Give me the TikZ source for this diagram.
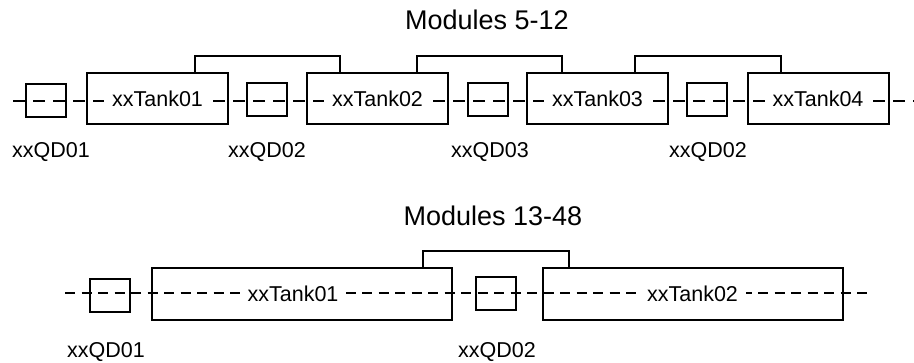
\documentclass[tikz,border=0pt]{standalone}
\usepackage{fontspec}
\setmainfont{Liberation Sans}
\begin{document}
\begin{tikzpicture}[x=1pt,y=-1pt,
  box/.style={draw, line width=2pt, inner sep=0pt},
  tankbox/.style={box, minimum width=141pt, minimum height=51pt},
  longtank/.style={box, minimum width=300pt, minimum height=52pt},
  qdbox/.style={box, minimum width=40pt, minimum height=33pt},
  flow/.style={line width=2pt},
  bracket/.style={line width=2pt},
  intext/.style={fill=white, inner xsep=8pt, inner ysep=2pt, anchor=base, font=\fontsize{21.5}{24}\selectfont},
  lbl/.style={anchor=base, inner sep=0pt, font=\fontsize{21.5}{24}\selectfont},
  ttl/.style={anchor=base, inner sep=0pt, font=\fontsize{27}{30}\selectfont}]
\useasboundingbox (0,0) rectangle (914,362);

% ---------- Modules 5-12 ----------
\node[ttl] (title1) at (487,29) {Modules 5-12};

\node[qdbox]   (qa1) at (46,100) {};
\node[tankbox] (ta1) at (157.5,98.5) {};
\node[qdbox]   (qa2) at (266.5,99.5) {};
\node[tankbox] (ta2) at (377.5,98.5) {};
\node[qdbox]   (qa3) at (487.5,99) {};
\node[tankbox] (ta3) at (597.5,98.5) {};
\node[qdbox]   (qa4) at (707,99) {};
\node[tankbox] (ta4) at (818,98.5) {};

\draw[bracket] (195,0 |- ta1.north) |- (340,56) -- (340,0 |- ta2.north);
\draw[bracket] (417,0 |- ta2.north) |- (562,56) -- (562,0 |- ta3.north);
\draw[bracket] (635,0 |- ta3.north) |- (781,56) -- (781,0 |- ta4.north);

\coordinate (sa) at (13,101);
\coordinate (ea) at (914,101);
\draw[flow, dash pattern=on 12pt off 8pt] (sa) -- (ea);

\node[intext] (ta1t) at (157.5,106) {xxTank01};
\node[intext] (ta2t) at (377.5,106) {xxTank02};
\node[intext] (ta3t) at (597.5,106) {xxTank03};
\node[intext] (ta4t) at (818,106) {xxTank04};

\node[lbl] (la1) at (51,157) {xxQD01};
\node[lbl] (la2) at (267,157) {xxQD02};
\node[lbl] (la3) at (490,157) {xxQD03};
\node[lbl] (la4) at (708,157) {xxQD02};

% ---------- Modules 13-48 ----------
\node[ttl] (title2) at (493,225) {Modules 13-48};

\node[qdbox]    (qb1) at (109.5,295) {};
\node[longtank] (tb1) at (302,294) {};
\node[qdbox]    (qb2) at (496,293.5) {};
\node[longtank] (tb2) at (693,294) {};

\draw[bracket] (423,0 |- tb1.north) |- (569,251) -- (569,0 |- tb2.north);

\coordinate (sb) at (65,293);
\coordinate (eb) at (872,293);
\draw[flow, dash pattern=on 10pt off 6.5pt] (sb) -- (eb);

\node[intext] (tb1t) at (293,301) {xxTank01};
\node[intext] (tb2t) at (692.5,301) {xxTank02};

\node[lbl] (lb1) at (106,357) {xxQD01};
\node[lbl] (lb2) at (497,357) {xxQD02};
\end{tikzpicture}
\end{document}
